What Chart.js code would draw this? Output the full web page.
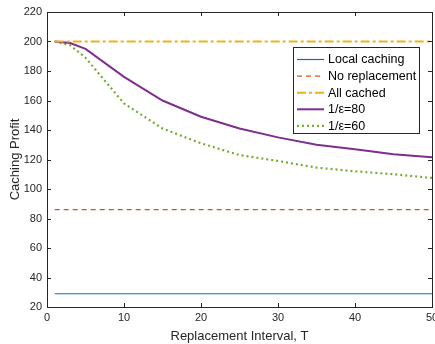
<!DOCTYPE html>
<html>
<head>
<meta charset="utf-8">
<script src="https://cdn.jsdelivr.net/npm/chart.js@4"></script>
<style>
  html, body { margin: 0; padding: 0; background: #fff; }
  #wrap { width: 435px; height: 344px; }
</style>
</head>
<body>
<div id="wrap"><canvas id="chart" width="435" height="344"></canvas></div>
<script>
// Data
const intervals = [1, 3, 5, 10, 15, 20, 25, 30, 35, 40, 45, 50];
const localCaching = [29, 29, 29, 29, 29, 29, 29, 29, 29, 29, 29, 29];
const noReplacement = [86, 86, 86, 86, 86, 86, 86, 86, 86, 86, 86, 86];
const allCached = [200, 200, 200, 200, 200, 200, 200, 200, 200, 200, 200, 200];
const eps80 = [200, 199, 195, 176, 160, 149, 141, 135, 130, 127, 123.5, 121.5];
const eps60 = [200, 197.5, 189, 158, 141, 131, 123, 119, 114.5, 112, 110, 107.5];
const seriesLabels = ['Local caching', 'No replacement', 'All cached', '1/\u03B5=80', '1/\u03B5=60'];
const xTicks = [0, 10, 20, 30, 40, 50];
const yTicks = [20, 40, 60, 80, 100, 120, 140, 160, 180, 200, 220];

const FONT = '"Liberation Sans", Arial, Helvetica, sans-serif';
const TEXT = '#262626';

function pts(ys) {
    return intervals.map((x, i) => ({ x: x, y: ys[i] }));
}

// box, inward ticks and the legend, MATLAB style
const matlabAxes = {
    id: 'matlabAxes',
    afterDatasetsDraw(chart) {
        const ctx = chart.ctx;
        const a = chart.chartArea;
        const xs = chart.scales.x, ys = chart.scales.y;
        ctx.save();
        ctx.strokeStyle = TEXT;
        ctx.lineWidth = 1;
        ctx.setLineDash([]);
        ctx.strokeRect(Math.round(a.left) + 0.5, Math.round(a.top) + 0.5,
            Math.round(a.right - a.left), Math.round(a.bottom - a.top));
        ctx.beginPath();
        xTicks.forEach(v => {
            const px = Math.round(xs.getPixelForValue(v)) + 0.5;
            ctx.moveTo(px, a.bottom); ctx.lineTo(px, a.bottom - 4);
            ctx.moveTo(px, a.top); ctx.lineTo(px, a.top + 4);
        });
        yTicks.forEach(v => {
            const py = Math.round(ys.getPixelForValue(v)) + 0.5;
            ctx.moveTo(a.left, py); ctx.lineTo(a.left + 4, py);
            ctx.moveTo(a.right, py); ctx.lineTo(a.right - 4, py);
        });
        ctx.stroke();

        // legend box
        const lx = 293, ly = 47, lw = 126, lh = 86, rowH = 16.6;
        ctx.fillStyle = '#fff';
        ctx.fillRect(lx, ly, lw, lh);
        ctx.strokeStyle = TEXT;
        ctx.strokeRect(lx + 0.5, ly + 0.5, lw, lh);
        ctx.font = '12.5px ' + FONT;
        ctx.textBaseline = 'middle';
        chart.data.datasets.forEach((ds, i) => {
            const cy = ly + 12.5 + i * rowH;
            ctx.strokeStyle = ds.borderColor;
            ctx.lineWidth = ds.borderWidth;
            ctx.setLineDash(ds.borderDash || []);
            ctx.beginPath();
            ctx.moveTo(lx + 4, cy); ctx.lineTo(lx + 31, cy);
            ctx.stroke();
            ctx.setLineDash([]);
            ctx.fillStyle = '#000';
            ctx.fillText(ds.label, lx + 35, cy + 0.5);
        });
        ctx.restore();
    }
};

new Chart(document.getElementById('chart').getContext('2d'), {
    type: 'line',
    data: {
        datasets: [
            { label: seriesLabels[0], data: pts(localCaching), borderColor: '#0072BD', borderWidth: 1.2 },
            { label: seriesLabels[1], data: pts(noReplacement), borderColor: '#D95319', borderWidth: 1.2, borderDash: [5, 4] },
            { label: seriesLabels[2], data: pts(allCached), borderColor: '#EDB120', borderWidth: 2, borderDash: [9, 3, 3, 3] },
            { label: seriesLabels[3], data: pts(eps80), borderColor: '#7E2F8E', borderWidth: 2 },
            { label: seriesLabels[4], data: pts(eps60), borderColor: '#77AC30', borderWidth: 2.2, borderDash: [2, 3] }
        ]
    },
    options: {
        responsive: false,
        animation: false,
        layout: { padding: { top: 12, right: 3, left: 0, bottom: 0 } },
        elements: { point: { radius: 0 }, line: { tension: 0 } },
        plugins: { legend: { display: false }, tooltip: { enabled: false } },
        scales: {
            x: {
                type: 'linear', min: 0, max: 50,
                afterBuildTicks: s => { s.ticks = xTicks.map(v => ({ value: v })); },
                afterFit: s => { s.height = 37; s.paddingRight = 0; s.paddingLeft = 0; },
                grid: { display: false, drawTicks: false },
                border: { display: false },
                ticks: { color: TEXT, font: { family: FONT, size: 11 }, padding: 4, maxRotation: 0 },
                title: { display: true, text: 'Replacement Interval, T', color: TEXT,
                    font: { family: FONT, size: 13 }, padding: { top: -8, bottom: 0 } }
            },
            y: {
                min: 20, max: 220,
                afterBuildTicks: s => { s.ticks = yTicks.map(v => ({ value: v })); },
                afterFit: s => { s.width = 47; },
                grid: { display: false, drawTicks: false },
                border: { display: false },
                ticks: { color: TEXT, font: { family: FONT, size: 11 }, padding: 5 },
                title: { display: true, text: 'Caching Profit', color: TEXT,
                    font: { family: FONT, size: 13 }, padding: { top: 8, bottom: 0 } }
            }
        }
    },
    plugins: [matlabAxes]
});
</script>
</body>
</html>
